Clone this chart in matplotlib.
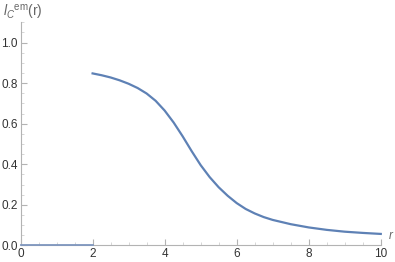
import matplotlib
matplotlib.use("Agg")
import matplotlib.pyplot as plt
from matplotlib.ticker import MultipleLocator

# curve (r >= 2), plus the zero part for r < 2
r = [2.0, 2.25, 2.5, 2.75, 3.0, 3.25, 3.5, 3.75, 4.0, 4.25, 4.5, 4.75, 5.0,
     5.25, 5.5, 5.75, 6.0, 6.25, 6.5, 6.75, 7.0, 7.5, 8.0, 8.5, 9.0, 9.5, 10.0]
lc = [0.848, 0.839, 0.828, 0.814, 0.797, 0.776, 0.749, 0.713, 0.665, 0.606,
      0.538, 0.465, 0.396, 0.337, 0.287, 0.245, 0.209, 0.180, 0.158, 0.140,
      0.126, 0.105, 0.089, 0.077, 0.068, 0.062, 0.057]
r_zero = [0.0, 2.0]
lc_zero = [0.0, 0.0]

line_col = '#5E81B5'
axis_col = '#b3b3b3'
text_col = '#333333'

plt.rcParams['font.family'] = ['Liberation Sans', 'DejaVu Sans']
plt.rcParams['mathtext.fontset'] = 'custom'
plt.rcParams['mathtext.rm'] = 'Liberation Sans'
plt.rcParams['mathtext.it'] = 'Liberation Sans:italic'

fig = plt.figure(figsize=(3.95, 2.62), dpi=100)
ax = fig.add_axes([0.052, 0.063, 0.912, 0.852])

ax.plot(r_zero, lc_zero, color='#7f97bf', lw=1.3, clip_on=False, zorder=3)
ax.plot(r, lc, color=line_col, lw=1.6, clip_on=False, zorder=3)

ax.set_xlim(0, 10)
ax.set_ylim(0, 1.1)
for s in ['top', 'right']:
    ax.spines[s].set_visible(False)
for s in ['left', 'bottom']:
    ax.spines[s].set_color(axis_col)
    ax.spines[s].set_linewidth(0.8)

ax.xaxis.set_major_locator(MultipleLocator(2))
ax.xaxis.set_minor_locator(MultipleLocator(0.5))
ax.yaxis.set_major_locator(MultipleLocator(0.2))
ax.yaxis.set_minor_locator(MultipleLocator(0.05))
ax.tick_params(which='major', direction='in', length=4, width=0.8, color=axis_col,
               labelsize=8.5, labelcolor=text_col, pad=2)
ax.tick_params(which='minor', direction='in', length=2.5, width=0.6, color='#d0d0d0')
ax.set_xticks([0, 2, 4, 6, 8, 10])
ax.set_yticks([0.0, 0.2, 0.4, 0.6, 0.8, 1.0])
ax.set_yticklabels(['0.0', '0.2', '0.4', '0.6', '0.8', '1.0'])

ax.text(10.2, 0.015, r'$r$', color='#666666', fontsize=8.5, ha='left', va='bottom')
fig.text(0.008, 0.99, r'$l_C{}^{\mathrm{em}}\mathrm{(r)}$', color='#666666',
         fontsize=10, ha='left', va='top')

fig.savefig('out.png', dpi=100)
